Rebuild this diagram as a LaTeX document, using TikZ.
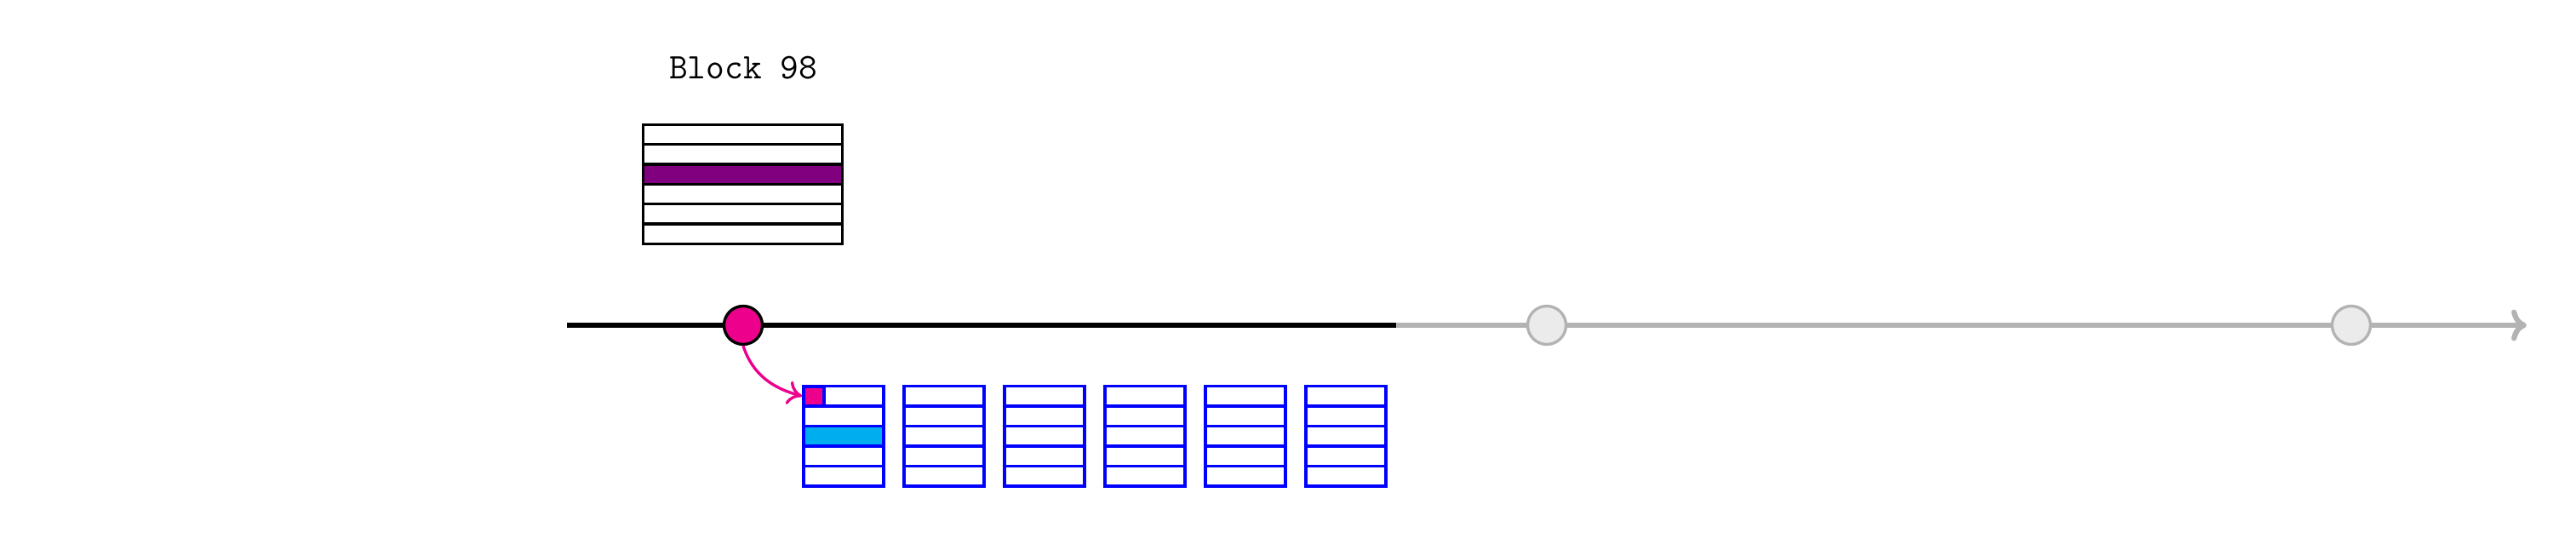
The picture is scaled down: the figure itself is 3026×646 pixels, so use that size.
\documentclass[tikz,border=0pt]{standalone}
\usetikzlibrary{arrows.meta}
\definecolor{pinkc}{HTML}{EC008C}
\definecolor{purplec}{HTML}{800080}
\definecolor{cyanc}{HTML}{00AEEF}
\definecolor{bluec}{HTML}{0000FF}
\definecolor{grayline}{HTML}{B3B3B3}
\definecolor{grayfill}{HTML}{EBEBEB}
\tikzset{
  pinkdot/.style={circle, draw=black, fill=pinkc, line width=0.95pt, minimum size=0.45cm, inner sep=0pt},
  graydot/.style={circle, draw=grayline, fill=grayfill, line width=0.95pt, minimum size=0.45cm, inner sep=0pt},
  tablecell/.style={draw=bluec, line width=0.95pt},
  blockcell/.style={draw=black, line width=0.95pt},
  pinksq/.style={rectangle, draw=bluec, fill=pinkc, line width=1.2pt, minimum width=0.235cm, minimum height=0.23cm, inner sep=0pt},
}
\begin{document}
\begin{tikzpicture}[x=0.01cm,y=-0.01cm]
\useasboundingbox (0,0) rectangle (3026,646);
% title
\node[font=\ttfamily\fontsize{12}{14}\selectfont, inner sep=0pt, anchor=base] (title) at (873,93) {Block 98};
% block 98
\fill[purplec] (755.5,193.2) rectangle (989.5,216.5);
\foreach \r in {0,...,5}{
  \draw[blockcell] (755.5,{146.5+23.33*\r}) rectangle (989.5,{146.5+23.33*(\r+1)});
}
% timeline
\coordinate (tstart) at (666,382);
\coordinate (tmid) at (1640,382);
\coordinate (tend) at (2968,382);
\draw[line width=1.75pt, grayline, -{Computer Modern Rightarrow[length=5.1pt,width=10.5pt]}] (tmid) -- (tend);
\draw[line width=1.75pt, black] (tstart) -- (tmid);
\node[pinkdot] (p0) at (873,382) {};
\node[graydot] (g1) at (1817,382) {};
\node[graydot] (g2) at (2762,382) {};
% tables
\foreach \t in {0,...,5}{
  \foreach \r in {0,...,4}{
    \draw[tablecell] ({944+118*\t},{453.5+23.5*\r}) rectangle ({1038+118*\t},{453.5+23.5*(\r+1)});
  }
}
\draw[tablecell, fill=cyanc] (944,500.5) rectangle (1038,524);
\node[pinksq] (sq) at (956,465.25) {};
% arrow
\draw[pinkc, line width=0.95pt, -{Computer Modern Rightarrow[length=4.8pt,width=8pt]}] (p0.south) to[out=-72, in=165] (sq.west);
\end{tikzpicture}
\end{document}
